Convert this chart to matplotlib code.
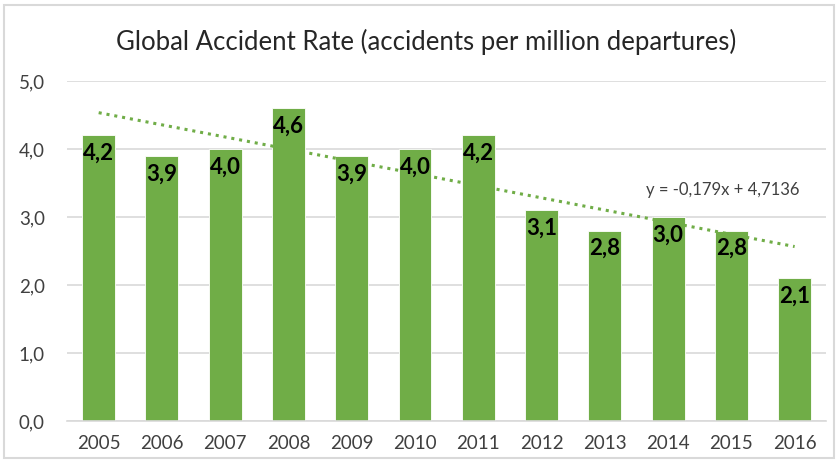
import numpy as np
import matplotlib.pyplot as plt
from matplotlib.patches import Rectangle

#%% -- data --
years = ['2005', '2006', '2007', '2008', '2009', '2010', '2011', '2012', '2013', '2014', '2015', '2016']
rates = [4.2, 3.9, 4.0, 4.6, 3.9, 4.0, 4.2, 3.1, 2.8, 3.0, 2.8, 2.1]
trend_slope = -0.179
trend_icept = 4.7136
yticks = [0, 1, 2, 3, 4, 5]

green = '#70AD47'
plt.rcParams['font.family'] = ['Lato', 'DejaVu Sans']

#%% -- plot --
fig = plt.figure(figsize=(8.38, 4.67), dpi=100)
ax = fig.add_axes([0.080, 0.0985, 0.906, 0.728])

x = np.arange(len(years))
ax.bar(x, rates, width=0.52, color=green, edgecolor='white', linewidth=0.6, zorder=2)

# linear trendline (excel numbers series 1..n)
xn = x + 1
ax.plot(x, trend_slope * xn + trend_icept, linestyle=(0, (1, 1.6)), color=green,
        linewidth=2.2, zorder=3)

for xi, v in zip(x, rates):
    ax.text(xi, v - 0.11, f'{v:.1f}'.replace('.', ','), ha='center', va='top',
            fontsize=16, fontweight='bold', color='black', zorder=4)

ax.text(0.863, 0.68, 'y = -0,179x + 4,7136', transform=ax.transAxes, ha='center',
        va='center', fontsize=12, color='#404040')

ax.set_xlim(-0.5, len(years) - 0.5)
ax.set_ylim(0, 5)
ax.set_yticks(yticks)
ax.set_yticklabels([f'{t:.1f}'.replace('.', ',') for t in yticks])
ax.set_xticks(x)
ax.set_xticklabels(years)
ax.tick_params(axis='both', length=0, labelsize=13.5, colors='#404040')
ax.tick_params(axis='y', pad=16)
ax.tick_params(axis='x', pad=10)
ax.grid(axis='y', color='#D9D9D9', linewidth=1.2, zorder=0)
ax.set_axisbelow(True)
for s in ['top', 'right', 'left']:
    ax.spines[s].set_visible(False)
ax.spines['bottom'].set_color('#D9D9D9')
ax.spines['bottom'].set_linewidth(1.2)

fig.text(0.508, 0.91, 'Global Accident Rate (accidents per million departures)',
         ha='center', va='center', fontsize=18.5, color='#262626')

# chart frame
fig.patches.append(Rectangle((0.005, 0.02), 0.99, 0.97, transform=fig.transFigure,
                             fill=False, edgecolor='#D9D9D9', linewidth=1.5))

plt.savefig('out.png', dpi=100)
